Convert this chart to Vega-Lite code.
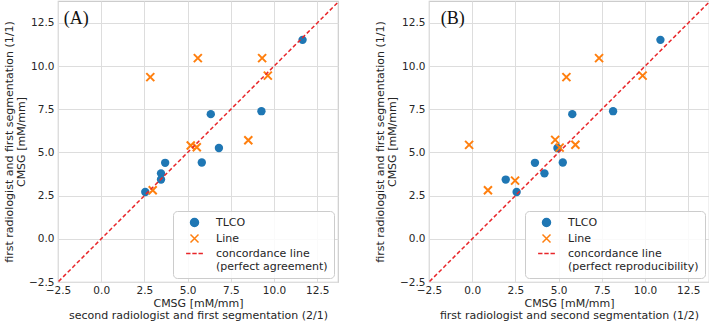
{
  "$schema": "https://vega.github.io/schema/vega-lite/v6.json",
  "background": "white",
  "padding": {"left": 2, "top": 0, "right": 2, "bottom": 0},
  "datasets": {
    "A": [
      {"series": "TLCO", "x": 11.65, "y": 11.52},
      {"series": "TLCO", "x": 9.27, "y": 7.39},
      {"series": "TLCO", "x": 6.34, "y": 7.22},
      {"series": "TLCO", "x": 6.81, "y": 5.26},
      {"series": "TLCO", "x": 5.82, "y": 4.42},
      {"series": "TLCO", "x": 3.70, "y": 4.40},
      {"series": "TLCO", "x": 3.46, "y": 3.79},
      {"series": "TLCO", "x": 3.46, "y": 3.43},
      {"series": "TLCO", "x": 2.55, "y": 2.71},
      {"series": "Line", "x": 2.84, "y": 9.36},
      {"series": "Line", "x": 5.59, "y": 10.46},
      {"series": "Line", "x": 9.31, "y": 10.46},
      {"series": "Line", "x": 9.64, "y": 9.45},
      {"series": "Line", "x": 8.51, "y": 5.71},
      {"series": "Line", "x": 5.18, "y": 5.40},
      {"series": "Line", "x": 5.53, "y": 5.30},
      {"series": "Line", "x": 2.98, "y": 2.81}
    ],
    "B": [
      {"series": "TLCO", "x": 10.89, "y": 11.52},
      {"series": "TLCO", "x": 8.15, "y": 7.39},
      {"series": "TLCO", "x": 5.79, "y": 7.22},
      {"series": "TLCO", "x": 4.93, "y": 5.26},
      {"series": "TLCO", "x": 3.63, "y": 4.40},
      {"series": "TLCO", "x": 5.24, "y": 4.42},
      {"series": "TLCO", "x": 4.18, "y": 3.79},
      {"series": "TLCO", "x": 1.94, "y": 3.43},
      {"series": "TLCO", "x": 2.57, "y": 2.71},
      {"series": "Line", "x": -0.18, "y": 5.44},
      {"series": "Line", "x": 5.45, "y": 9.36},
      {"series": "Line", "x": 7.34, "y": 10.46},
      {"series": "Line", "x": 9.86, "y": 9.45},
      {"series": "Line", "x": 4.80, "y": 5.73},
      {"series": "Line", "x": 5.06, "y": 5.28},
      {"series": "Line", "x": 5.97, "y": 5.45},
      {"series": "Line", "x": 2.48, "y": 3.37},
      {"series": "Line", "x": 0.91, "y": 2.81}
    ],
    "diagA": [
      {"series": "concordance line|(perfect agreement)", "v": -3},
      {"series": "concordance line|(perfect agreement)", "v": 15}
    ],
    "diagB": [
      {"series": "concordance line|(perfect reproducibility)", "v": -3},
      {"series": "concordance line|(perfect reproducibility)", "v": 15}
    ],
    "labels": [
      {"panel": "A", "label": "(A)"},
      {"panel": "B", "label": "(B)"}
    ]
  },
  "config": {
    "font": "DejaVu Sans",
    "view": {"stroke": "#cccccc", "strokeWidth": 1.2},
    "axis": {
      "domain": false,
      "ticks": false,
      "grid": true,
      "gridColor": "#dddddd",
      "gridWidth": 1,
      "labelFont": "DejaVu Sans",
      "labelFontSize": 10.5,
      "labelColor": "#262626",
      "titleFont": "DejaVu Sans",
      "titleFontSize": 11,
      "titleFontWeight": "normal",
      "titleColor": "#262626",
      "titleLineHeight": 12,
      "format": ".1f",
      "labelFlush": false,
      "labelOverlap": false
    },
    "axisX": {"labelPadding": 3, "titlePadding": 2},
    "axisY": {"labelPadding": 4, "titlePadding": 2},
    "legend": {
      "orient": "bottom-right",
      "offset": 4,
      "padding": 6,
      "cornerRadius": 4,
      "strokeColor": "#cccccc",
      "fillColor": "rgba(255,255,255,0.85)",
      "labelFont": "DejaVu Sans",
      "labelFontSize": 11,
      "labelColor": "#262626",
      "symbolOffset": 10,
      "labelOffset": 16,
      "rowPadding": 1,
      "symbolSize": 64,
      "labelLimit": 300
    }
  },
  "spacing": 34,
  "resolve": {
    "scale": {"color": "independent", "shape": "independent"},
    "legend": {"color": "independent", "shape": "independent"}
  },
  "hconcat": [
    {
      "width": 280,
      "height": 281,
      "layer": [
        {
          "data": {"name": "A"},
          "transform": [{"filter": "datum.series == 'TLCO'"}],
          "mark": {"type": "point", "filled": true, "shape": "circle", "size": 70, "opacity": 1},
          "encoding": {
            "x": {"field": "x", "type": "quantitative", "scale": {"domain": [-2.5, 13.7], "nice": false, "zero": false}, "axis": {"values": [-2.5, 0, 2.5, 5, 7.5, 10, 12.5], "title": ["CMSG [mM/mm]", "second radiologist and first segmentation (2/1)"]}},
            "y": {"field": "y", "type": "quantitative", "scale": {"domain": [-2.5, 13.77], "nice": false, "zero": false}, "axis": {"values": [-2.5, 0, 2.5, 5, 7.5, 10, 12.5], "title": ["first radiologist and first segmentation (1/1)", "CMSG [mM/mm]"]}},
            "color": {"field": "series", "type": "nominal", "scale": {"domain": ["TLCO", "Line", "concordance line|(perfect agreement)"], "range": ["#1f77b4", "#ff7f0e", "#e8262a"]},
              "legend": {"title": null, "labelExpr": "indexof(datum.label, '|') >= 0 ? split(datum.label, '|') : datum.label",
                "encode": {"labels": {"update": {"lineHeight": {"value": 12.3}}},
                  "symbols": {"update": {
                  "shape": {"signal": "datum.value == 'TLCO' ? 'circle' : datum.value == 'Line' ? 'M-1,-1L1,1M-1,1L1,-1' : 'M-2.1,0L-1,0M-0.55,0L0.55,0M1,0L2.1,0'"},
                  "fill": {"signal": "datum.value == 'TLCO' ? '#1f77b4' : 'transparent'"},
                  "stroke": {"signal": "datum.value == 'TLCO' ? 'transparent' : datum.value == 'Line' ? '#ff7f0e' : '#e8262a'"},
                  "strokeWidth": {"signal": "datum.value == 'TLCO' ? 0 : datum.value == 'Line' ? 2 : 1.5"},
                  "opacity": {"value": 1}
                }}}}},
            "shape": {"field": "series", "type": "nominal", "scale": {"domain": ["TLCO", "Line", "concordance line|(perfect agreement)"], "range": ["circle", "M-1,-1L1,1M-1,1L1,-1", "M-2.1,0L-1,0M-0.55,0L0.55,0M1,0L2.1,0"]}, "legend": null}
          }
        },
        {
          "data": {"name": "A"},
          "transform": [{"filter": "datum.series == 'Line'"}],
          "mark": {"type": "point", "filled": false, "strokeWidth": 2, "size": 64, "opacity": 1},
          "encoding": {
            "x": {"field": "x", "type": "quantitative"},
            "y": {"field": "y", "type": "quantitative"},
            "color": {"field": "series", "type": "nominal"},
            "shape": {"field": "series", "type": "nominal"}
          }
        },
        {
          "data": {"name": "diagA"},
          "mark": {"type": "line", "strokeDash": [4, 2.5], "strokeWidth": 1.5, "clip": true},
          "encoding": {
            "x": {"field": "v", "type": "quantitative"},
            "y": {"field": "v", "type": "quantitative"},
            "color": {"field": "series", "type": "nominal"}
          }
        },
        {
          "data": {"name": "labels"},
          "transform": [{"filter": "datum.panel == 'A'"}],
          "mark": {"type": "text", "font": "Liberation Serif", "fontSize": 18, "align": "center", "baseline": "middle", "color": "#111111"},
          "encoding": {
            "x": {"datum": -1.45, "type": "quantitative"},
            "y": {"datum": 12.73, "type": "quantitative"},
            "text": {"field": "label"}
          }
        }
      ]
    },
    {
      "width": 280,
      "height": 281,
      "layer": [
        {
          "data": {"name": "B"},
          "transform": [{"filter": "datum.series == 'TLCO'"}],
          "mark": {"type": "point", "filled": true, "shape": "circle", "size": 70, "opacity": 1},
          "encoding": {
            "x": {"field": "x", "type": "quantitative", "scale": {"domain": [-2.5, 13.7], "nice": false, "zero": false}, "axis": {"values": [-2.5, 0, 2.5, 5, 7.5, 10, 12.5], "title": ["CMSG [mM/mm]", "first radiologist and second segmentation (1/2)"]}},
            "y": {"field": "y", "type": "quantitative", "scale": {"domain": [-2.5, 13.77], "nice": false, "zero": false}, "axis": {"values": [-2.5, 0, 2.5, 5, 7.5, 10, 12.5], "title": ["first radiologist and first segmentation (1/1)", "CMSG [mM/mm]"]}},
            "color": {"field": "series", "type": "nominal", "scale": {"domain": ["TLCO", "Line", "concordance line|(perfect reproducibility)"], "range": ["#1f77b4", "#ff7f0e", "#e8262a"]},
              "legend": {"title": null, "labelExpr": "indexof(datum.label, '|') >= 0 ? split(datum.label, '|') : datum.label",
                "encode": {"labels": {"update": {"lineHeight": {"value": 12.3}}},
                  "symbols": {"update": {
                  "shape": {"signal": "datum.value == 'TLCO' ? 'circle' : datum.value == 'Line' ? 'M-1,-1L1,1M-1,1L1,-1' : 'M-2.1,0L-1,0M-0.55,0L0.55,0M1,0L2.1,0'"},
                  "fill": {"signal": "datum.value == 'TLCO' ? '#1f77b4' : 'transparent'"},
                  "stroke": {"signal": "datum.value == 'TLCO' ? 'transparent' : datum.value == 'Line' ? '#ff7f0e' : '#e8262a'"},
                  "strokeWidth": {"signal": "datum.value == 'TLCO' ? 0 : datum.value == 'Line' ? 2 : 1.5"},
                  "opacity": {"value": 1}
                }}}}},
            "shape": {"field": "series", "type": "nominal", "scale": {"domain": ["TLCO", "Line", "concordance line|(perfect reproducibility)"], "range": ["circle", "M-1,-1L1,1M-1,1L1,-1", "M-2.1,0L-1,0M-0.55,0L0.55,0M1,0L2.1,0"]}, "legend": null}
          }
        },
        {
          "data": {"name": "B"},
          "transform": [{"filter": "datum.series == 'Line'"}],
          "mark": {"type": "point", "filled": false, "strokeWidth": 2, "size": 64, "opacity": 1},
          "encoding": {
            "x": {"field": "x", "type": "quantitative"},
            "y": {"field": "y", "type": "quantitative"},
            "color": {"field": "series", "type": "nominal"},
            "shape": {"field": "series", "type": "nominal"}
          }
        },
        {
          "data": {"name": "diagB"},
          "mark": {"type": "line", "strokeDash": [4, 2.5], "strokeWidth": 1.5, "clip": true},
          "encoding": {
            "x": {"field": "v", "type": "quantitative"},
            "y": {"field": "v", "type": "quantitative"},
            "color": {"field": "series", "type": "nominal"}
          }
        },
        {
          "data": {"name": "labels"},
          "transform": [{"filter": "datum.panel == 'B'"}],
          "mark": {"type": "text", "font": "Liberation Serif", "fontSize": 18, "align": "center", "baseline": "middle", "color": "#111111"},
          "encoding": {
            "x": {"datum": -1.12, "type": "quantitative"},
            "y": {"datum": 12.73, "type": "quantitative"},
            "text": {"field": "label"}
          }
        }
      ]
    }
  ]
}
